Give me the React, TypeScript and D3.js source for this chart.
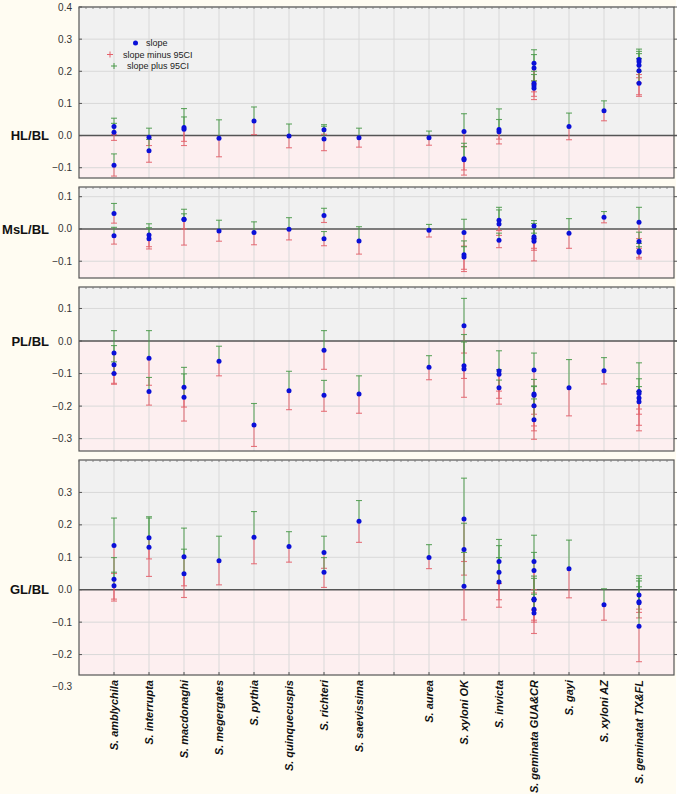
import React from "react";
import * as d3 from "d3";

// Categories (blank slot separates the two groups)
const categories = [
  "S. amblychila", "S. interrupta", "S. macdonaghi", "S. megergates", "S. pythia",
  "S. quinquecuspis", "S. richteri", "S. saevissima", "",
  "S. aurea", "S. xyloni OK", "S. invicta", "S. geminata GUA&CR", "S. gayi",
  "S. xyloni AZ", "S. geminatat TX&FL",
];

// [category index, slope, slope minus 95CI, slope plus 95CI]
const hlData: number[][] = [
  [0, 0.028, 0.003, 0.054], [0, 0.010, -0.015, 0.038], [0, -0.092, -0.126, -0.057],
  [1, -0.005, -0.031, 0.023], [1, -0.047, -0.083, -0.012],
  [2, 0.025, -0.031, 0.084], [2, 0.020, -0.018, 0.058],
  [3, -0.008, -0.066, 0.049],
  [4, 0.045, 0.003, 0.089],
  [5, -0.001, -0.038, 0.036],
  [6, 0.018, 0.004, 0.034], [6, -0.011, -0.047, 0.029],
  [7, -0.007, -0.036, 0.023],
  [9, -0.007, -0.030, 0.014],
  [10, 0.013, -0.035, 0.068], [10, -0.072, -0.107, -0.024], [10, -0.075, -0.123, -0.034],
  [11, 0.019, -0.026, 0.083], [11, 0.012, -0.011, 0.050],
  [12, 0.225, 0.170, 0.267], [12, 0.210, 0.160, 0.252], [12, 0.163, 0.122, 0.200], [12, 0.155, 0.112, 0.190], [12, 0.147, 0.136, 0.170],
  [13, 0.028, -0.013, 0.070],
  [14, 0.077, 0.046, 0.108],
  [15, 0.237, 0.190, 0.269], [15, 0.230, 0.164, 0.262], [15, 0.219, 0.180, 0.255], [15, 0.202, 0.127, 0.240], [15, 0.163, 0.122, 0.200],
];

const mslData: number[][] = [
  [0, 0.048, 0.018, 0.079], [0, -0.021, -0.047, 0.005],
  [1, -0.019, -0.055, 0.016], [1, -0.030, -0.062, 0.004],
  [2, 0.030, 0.000, 0.061], [2, 0.029, -0.050, 0.047],
  [3, -0.006, -0.038, 0.027],
  [4, -0.011, -0.049, 0.022],
  [5, -0.001, -0.034, 0.035],
  [6, 0.042, 0.020, 0.064], [6, -0.030, -0.052, -0.008],
  [7, -0.037, -0.078, 0.007],
  [9, -0.004, -0.025, 0.014],
  [10, -0.011, -0.053, 0.030], [10, -0.080, -0.125, -0.037], [10, -0.087, -0.132, -0.055],
  [11, 0.027, -0.005, 0.067], [11, 0.015, -0.020, 0.059], [11, -0.035, -0.058, -0.013],
  [12, 0.009, -0.030, 0.026], [12, -0.024, -0.060, 0.017], [12, -0.030, -0.099, 0.000], [12, -0.038, -0.066, -0.013],
  [13, -0.013, -0.060, 0.032],
  [14, 0.036, 0.019, 0.054],
  [15, 0.021, -0.030, 0.067], [15, -0.039, -0.060, -0.010], [15, -0.068, -0.088, -0.045], [15, -0.072, -0.093, -0.055],
];

const plData: number[][] = [
  [0, -0.037, -0.100, 0.032], [0, -0.073, -0.133, -0.014], [0, -0.100, -0.130, -0.064],
  [1, -0.053, -0.136, 0.032], [1, -0.155, -0.197, -0.112],
  [2, -0.142, -0.203, -0.081], [2, -0.173, -0.246, -0.101],
  [3, -0.062, -0.107, -0.016],
  [4, -0.258, -0.324, -0.192],
  [5, -0.153, -0.211, -0.093],
  [6, -0.028, -0.087, 0.032], [6, -0.167, -0.216, -0.121],
  [7, -0.163, -0.222, -0.107],
  [9, -0.081, -0.119, -0.045],
  [10, 0.047, -0.037, 0.131], [10, -0.076, -0.173, 0.020], [10, -0.086, -0.115, -0.003],
  [11, -0.092, -0.154, -0.030], [11, -0.102, -0.176, -0.088], [11, -0.144, -0.194, -0.120],
  [12, -0.089, -0.200, -0.037], [12, -0.163, -0.225, -0.118], [12, -0.167, -0.276, -0.138], [12, -0.199, -0.261, -0.140], [12, -0.242, -0.302, -0.178],
  [13, -0.144, -0.230, -0.057],
  [14, -0.091, -0.132, -0.051],
  [15, -0.155, -0.209, -0.067], [15, -0.161, -0.225, -0.116], [15, -0.175, -0.259, -0.140], [15, -0.187, -0.276, -0.155],
];

const glData: number[][] = [
  [0, 0.136, 0.050, 0.221], [0, 0.032, -0.029, 0.099], [0, 0.012, -0.035, 0.054],
  [1, 0.160, 0.095, 0.225], [1, 0.131, 0.041, 0.221],
  [2, 0.102, 0.012, 0.190], [2, 0.049, -0.024, 0.125],
  [3, 0.089, 0.015, 0.165],
  [4, 0.162, 0.080, 0.241],
  [5, 0.133, 0.085, 0.179],
  [6, 0.115, 0.066, 0.165], [6, 0.054, 0.007, 0.099],
  [7, 0.211, 0.146, 0.275],
  [9, 0.099, 0.065, 0.139],
  [10, 0.218, 0.087, 0.344], [10, 0.124, 0.045, 0.205], [10, 0.011, -0.093, 0.115],
  [11, 0.087, 0.019, 0.155], [11, 0.054, -0.031, 0.136], [11, 0.024, -0.054, 0.099],
  [12, 0.087, 0.000, 0.168], [12, 0.059, -0.010, 0.115], [12, -0.029, -0.094, 0.042], [12, -0.032, -0.135, 0.035], [12, -0.060, -0.100, -0.014], [12, -0.072, -0.063, -0.030],
  [13, 0.065, -0.025, 0.153],
  [14, -0.046, -0.094, 0.003],
  [15, -0.016, -0.060, 0.043], [15, -0.037, -0.070, 0.027], [15, -0.040, -0.087, 0.009], [15, -0.113, -0.222, 0.035],
];

const hlTicks = [0.4, 0.3, 0.2, 0.1, 0.0, -0.1];
const mslTicks = [0.1, 0.0, -0.1];
const plTicks = [0.1, 0.0, -0.1, -0.2, -0.3];
const glTicks = [0.3, 0.2, 0.1, 0.0, -0.1, -0.2, -0.3];

const legendLabels = ["slope", "slope minus 95CI", "slope plus 95CI"];

const panels = [
  { label: "HL/BL", top: 7, bottom: 178, domain: [-0.132, 0.4], ticks: hlTicks, data: hlData },
  { label: "MsL/BL", top: 187, bottom: 278, domain: [-0.152, 0.13], ticks: mslTicks, data: mslData },
  { label: "PL/BL", top: 287, bottom: 451, domain: [-0.338, 0.166], ticks: plTicks, data: plData },
  { label: "GL/BL", top: 460, bottom: 675, domain: [-0.263, 0.4], ticks: glTicks, data: glData },
];

const LEFT = 79;
const RIGHT = 674;
const BLUE = "#0a10d8";
const RED = "#e4606a";
const GREEN = "#4a9a4a";
const FONT = "'Liberation Sans', Arial, sans-serif";

export default function App() {
  const x = d3.scaleLinear().domain([-1, categories.length]).range([LEFT, RIGHT]);
  const fmt = d3.format(".1f");
  const fmtTick = (v: number) => (Math.abs(v) < 1e-9 ? "0.0" : fmt(v));

  return (
    <svg width={680} height={805} style={{ position: "absolute", left: 0, top: 0 }} fontFamily={FONT}>
      <rect x={0} y={0} width={680} height={805} fill="#ffffff" />
      <rect x={0} y={0} width={676} height={794} fill="#fffcf2" />
      {panels.map((p, pi) => {
        const y = d3.scaleLinear().domain(p.domain).range([p.bottom, p.top]);
        const y0 = y(0);
        return (
          <g key={pi}>
            <rect x={LEFT} y={p.top} width={RIGHT - LEFT} height={y0 - p.top} fill="#f1f1f1" />
            <rect x={LEFT} y={y0} width={RIGHT - LEFT} height={p.bottom - y0} fill="#fdeff0" />
            {/* vertical grid */}
            {categories.map((_, i) => (
              <line key={"vg" + i} x1={x(i)} x2={x(i)} y1={p.top} y2={p.bottom} stroke="#d9d9d9" strokeWidth={1} />
            ))}
            {/* horizontal grid and ticks */}
            {p.ticks.map((t) => {
              const ty = y(t);
              const inside = ty >= p.top - 0.5 && ty <= p.bottom + 0.5;
              return (
                <g key={"t" + t}>
                  {inside && t !== 0 && (
                    <line x1={LEFT} x2={RIGHT} y1={ty} y2={ty} stroke="#d9d9d9" strokeWidth={1} />
                  )}
                  {inside && <line x1={LEFT} x2={LEFT + 3} y1={ty} y2={ty} stroke="#555" />}
                  {inside && <line x1={RIGHT} x2={RIGHT + 3} y1={ty} y2={ty} stroke="#555" />}
                  <text x={72} y={ty} dy="0.35em" textAnchor="end" fontSize={10} fill="#333">
                    {fmtTick(t)}
                  </text>
                </g>
              );
            })}
            {/* zero line */}
            <line x1={LEFT} x2={RIGHT + 3} y1={y0} y2={y0} stroke="#555" strokeWidth={1.5} />
            {/* frame */}
            <rect x={LEFT} y={p.top} width={RIGHT - LEFT} height={p.bottom - p.top} fill="none" stroke="#555" strokeWidth={1.2} />
            {/* top minor ticks */}
            {d3.range(-1, categories.length, 0.2).map((v, k) => (
              <line key={"mt" + k} x1={x(v)} x2={x(v)} y1={p.top} y2={p.top + 2} stroke="#777" strokeWidth={0.8} />
            ))}
            {/* panel label */}
            <text x={49} y={y0} dy="0.35em" textAnchor="end" fontSize={13} fontWeight="bold" fill="#111">
              {p.label}
            </text>
            {/* error bars */}
            {p.data.map((d, k) => {
              const cx = x(d[0]);
              return (
                <g key={"e" + k}>
                  <line x1={cx} x2={cx} y1={y(d[2])} y2={y(d[1])} stroke={RED} strokeWidth={1.1} opacity={0.85} />
                  <line x1={cx - 3} x2={cx + 3} y1={y(d[2])} y2={y(d[2])} stroke={RED} strokeWidth={1.1} opacity={0.85} />
                  <line x1={cx} x2={cx} y1={y(d[1])} y2={y(d[3])} stroke={GREEN} strokeWidth={1.1} opacity={0.85} />
                  <line x1={cx - 3} x2={cx + 3} y1={y(d[3])} y2={y(d[3])} stroke={GREEN} strokeWidth={1.1} opacity={0.85} />
                </g>
              );
            })}
            {p.data.map((d, k) => (
              <circle key={"c" + k} cx={x(d[0])} cy={y(d[1])} r={2.5} fill={BLUE} />
            ))}
          </g>
        );
      })}
      {/* bottom ticks */}
      {categories.map((_, i) => (
        <line key={"bt" + i} x1={x(i)} x2={x(i)} y1={675} y2={672} stroke="#555" />
      ))}
      {/* x labels */}
      {categories.map((c, i) =>
        c ? (
          <text
            key={"xl" + i}
            transform={`translate(${x(i) + 4},680) rotate(-90)`}
            textAnchor="end"
            fontSize={11}
            fontWeight="bold"
            fontStyle="italic"
            fill="#111"
          >
            {c}
          </text>
        ) : null
      )}
      {/* legend */}
      <g fontSize={9} fill="#222">
        <circle cx={135.5} cy={43} r={2.5} fill={BLUE} />
        <text x={146} y={43} dy="0.35em">{legendLabels[0]}</text>
        <path d="M107,54.5h6M110,51.5v6" stroke={RED} strokeWidth={1} />
        <text x={123} y={54.5} dy="0.35em">{legendLabels[1]}</text>
        <path d="M111,66h6M114,63v6" stroke={GREEN} strokeWidth={1} />
        <text x={127} y={66} dy="0.35em">{legendLabels[2]}</text>
      </g>
    </svg>
  );
}
